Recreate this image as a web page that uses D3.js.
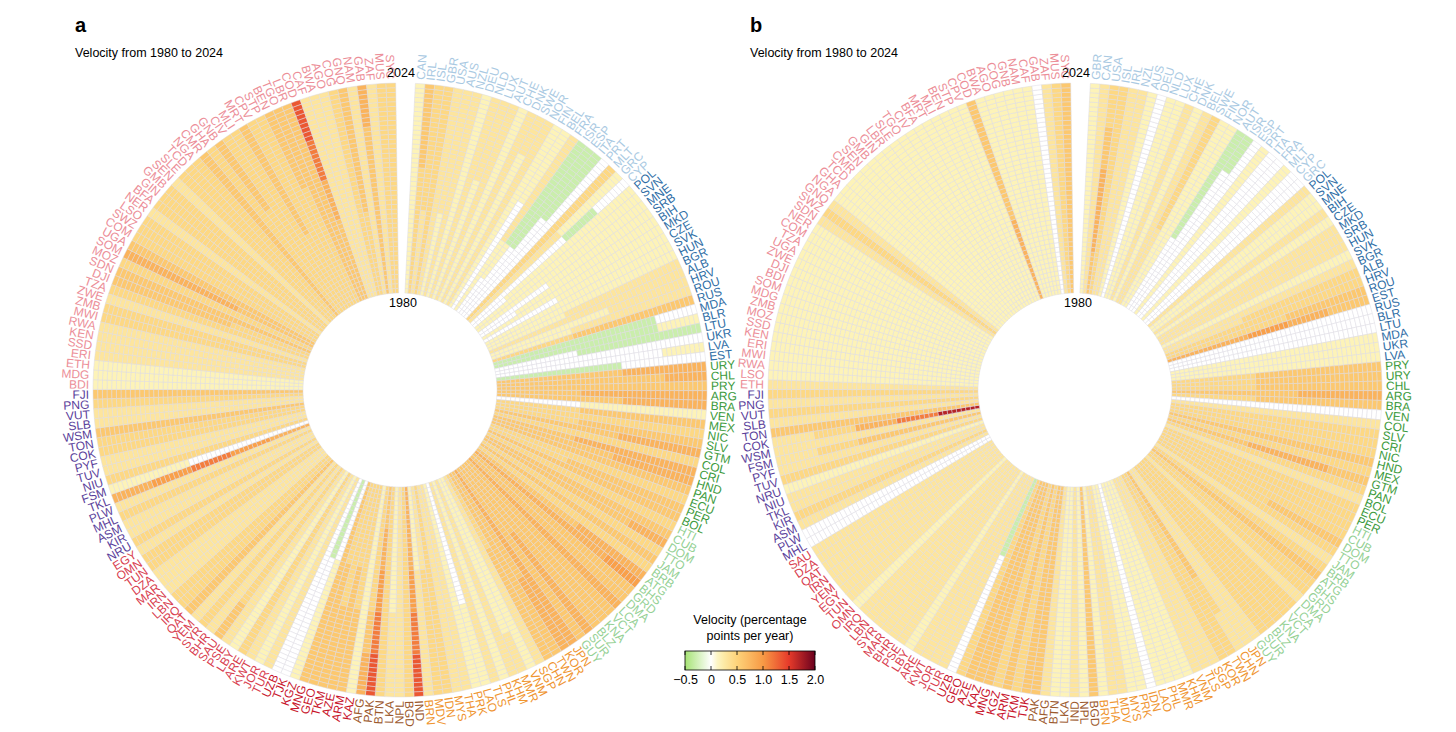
<!DOCTYPE html>
<html><head><meta charset="utf-8">
<script src="https://cdn.jsdelivr.net/npm/d3@7"></script>
<style>body{margin:0;background:#fff;font-family:"Liberation Sans",Arial,sans-serif}</style>
</head><body><svg id="c" width="1456" height="732"></svg>
<script>
// ---------- DATA ----------
const years = d3.range(1980, 2025);
const regionColors = {HI:"#a9c9e2",CEE:"#2f6ea6",LA:"#3c9a3c",CAR:"#95d195",EA:"#ef9530",SA:"#9c5a2e",CA:"#c8142c",ME:"#d84050",OC:"#5b3f9b",SSA:"#ec8e98"};
const regionOrder = ["HI","CEE","LA","CAR","EA","SA","CA","ME","OC","SSA"];
// level code -> velocity (pp/yr); each code char covers one 9-year block (1980-88, 89-97, 98-06, 07-15, 16-24)
const levelCodes = {g:-0.3, "0":0, "1":0.15, "2":0.3, "3":0.45, "4":0.6, "5":0.78, "6":0.95, "7":1.15, "8":1.35, "9":1.7};

const countriesA = {
 HI:"CAN IRL ISL GBR USA AUS NZL DEU NLD LUX AUT CHE DNK SWE NOR FIN BEL FRA ISR ESP ITA PRT MLT GRC CYP",
 CEE:"POL SVN MNE SRB BIH MKD CZE SVK HUN BGR ALB HRV ROU RUS MDA BLR LTU UKR LVA EST",
 LA:"URY CHL PRY ARG BRA VEN MEX NIC SLV GTM COL CRI HND PAN ECU PER BOL",
 CAR:"HTI CUB DOM TTO JAM BRB ATG BHS GRD DMA LCA VCT KNA BLZ SUR GUY",
 EA:"JPN KOR TWN CHN SGP VNM MMR KHM PHL TLS LAO PRK THA MYS IDN MDV BRN",
 SA:"IND BGD NPL LKA BTN PAK AFG",
 CA:"KAZ ARM AZE TKM GEO MNG KGZ TJK UZB",
 ME:"TUR JOR KWT ARE LBY PSE SAU BHR SYR YEM QAT IRQ LBN IRN MAR DZA TUN OMN EGY",
 OC:"NRU KIR ASM MHL PLW TKL FSM NIU TUV PYF COK TON WSM SLB VUT PNG FJI",
 SSA:"BDI MDG ETH ERI SSD KEN RWA MWI ZMB ZWE TZA DJI SDN MOZ SOM UGA COM SWZ LSO NER BFA GIN GMB SEN SLE TCD NGA CMR GHA GNB CIV MLI MRT CPV STP BEN TGO LBR COD CAF BWA AGO COG GNQ NAM GAB ZAF MUS SYC"
};
const codesA = {
 HI:"11111 33344 22333 33333 22222 11222 22222 11111 22222 11122 22222 11111 22222 11112 22222 11111 00011 11222 01ggg 00ggg 000gg 00000 33333 22211 000g0",
 CEE:"01111 11111 11111 00111 01111 11111 00111 11111 11111 11222 22222 11122 11222 33444 gggg0 gggg1 00ggg 00000 00001 ggg00",
 LA:"44455 44445 44444 44555 44455 00111 33444 33333 33444 44455 33333 44555 44455 44444 33333 33444 44444",
 CAR:"33333 44444 44445 33333 44444 33333 44455 55556 44444 44444 55555 44444 44444 44444 44555 44444",
 EA:"55555 44455 44444 33444 22222 11111 11112 22222 11111 22222 00011 11111 22222 22222 33333 22333 11222",
 SA:"55678 33333 22222 11122 33333 45678 33345",
 CA:"11111 33344 33444 33344 33444 44444 00111 gg000 00000",
 ME:"22222 11111 22222 33333 11111 22222 33334 22222 33333 22222 44444 33333 33333 22222 22222 22222 33333 33333 22222",
 OC:"33333 22222 22222 33333 22222 56765 00011 33333 22222 22222 33333 33333 44444 22222 22222 33333 44444",
 SSA:"11111 11111 11111 22222 22222 22222 22222 33333 33333 22222 33333 33444 44444 33333 44555 44444 33333 33333 33333 22222 33333 33333 33333 22222 33333 33333 33333 44444 33333 33344 33333 33333 33444 33333 33333 33344 44444 44444 44578 22222 22222 22222 33333 33444 22222 44445 22222 33333 33333"
};
const countriesB = {
 HI:"GBR CAN USA ISL IRL NZL AUS DEU NLD LUX CHE DNK BEL SWE FIN NOR AUT ISR ESP PRT ITA FRA MLT CYP GRC",
 CEE:"POL SVN MNE BIH CZE MKD SRB HUN SVK BGR ALB HRV ROU EST RUS BLR LTU MDA UKR LVA",
 LA:"PRY URY CHL ARG BRA VEN COL SLV CRI NIC HND MEX GTM PAN BOL ECU PER",
 CAR:"HTI CUB DOM TTO JAM BRB ATG BHS GRD DMA LCA VCT KNA BLZ SUR GUY",
 EA:"JPN CHN TWN KOR SGP TLS VNM KHM MMR PHL LAO IDN PRK MYS MDV THA BRN",
 SA:"BGD NPL IND LKA BTN AFG PAK",
 CA:"TJK TKM ARM KGZ MNG KAZ AZE GEO UZB",
 ME:"TUR JOR KWT ARE LBY PSE BHR MAR SYR LBN IRQ OMN TUN EGY YEM IRN QAT DZA SAU",
 OC:"MHL PLW ASM KIR TKL NIU NRU TUV PYF FSM WSM COK TON SLB VUT PNG FJI",
 SSA:"ETH LSO RWA MWI ERI KEN SSD MOZ ZMB MDG SOM BDI DJI ZWE UGA TZA COM NER SDN SWZ GNQ NGA GHA TCD CMR SEN GMB GIN LBR SLE TGO CIV BFA MRT MLI BEN STP CPV COD BWA AGO COG GNB NAM CAF GAB ZAF MUS SYC"
};
const codesB = {
 HI:"11111 22222 45543 33333 22222 22222 11111 00000 11111 11111 22222 11111 22222 22333 11111 11111 00ggg 0000g 00000 11111 00000 00000 11111 00000 00000",
 CEE:"22222 11111 11111 22222 11111 22222 22222 22222 11111 22222 22333 33333 33344 55654 00000 00000 00000 11111 11111 11111",
 LA:"33444 33444 33444 44455 33444 00000 22222 33333 33333 33333 44444 33333 44554 33333 22222 33333 33333",
 CAR:"33333 33333 33344 33333 22222 33333 44444 33333 33333 22222 33333 33333 33333 33333 33333 22222",
 EA:"22222 44432 33333 33333 22222 22222 22222 11111 11111 11111 11111 00000 11111 11111 22222 22222 11111",
 SA:"44444 11111 22222 11111 11111 22222 44444",
 CA:"44444 33333 44444 33333 44444 44444 44444 33333 gg000",
 ME:"22222 22222 22222 22222 11111 22222 22222 22222 22222 22222 22222 11111 22222 22222 22222 22222 22222 22222 22222",
 OC:"00000 00000 22222 33333 22222 22222 11111 33333 22222 44432 22222 97532 44444 22222 33333 22222 33333",
 SSA:"22222 11111 11111 11111 11111 11111 11111 11111 11111 11111 11111 11111 11111 11111 11111 11111 11111 11111 22222 33333 22222 11111 11111 11111 11111 11111 11111 11111 11111 11111 11111 11111 11111 11111 11111 11111 11111 11111 55444 11111 11111 11111 11111 11111 11111 00000 22222 33333 44444"
};
const legendTicks = [-0.5, 0, 0.5, 1.0, 1.5, 2.0];

// ---------- DRAW ----------
const svg = d3.select("#c");
const color = d3.scaleLinear()
  .domain([-0.5, 0, 0.15, 0.5, 1.0, 1.5, 2.0])
  .range(["#a6e374", "#ffffff", "#fdf3b8", "#fdd37a", "#f89a45", "#e63a2a", "#6a001e"])
  .clamp(true);

function buildRows(countries, codes) {
  const rows = [];
  regionOrder.forEach(r => {
    const cs = countries[r].split(" "), cd = codes[r].split(" ");
    cs.forEach((c, i) => rows.push({iso: c, region: r, code: cd[i] || "11111"}));
  });
  return rows;
}

function drawChart(cx, cy, rows, letter) {
  const g = svg.append("g").attr("transform", `translate(${cx},${cy})`);
  const innerR = 97, outerR = 307;
  const ang = d3.scaleBand().domain(rows.map(d => d.iso)).range([0.05, 2 * Math.PI - 0.014]);
  const rad = d3.scaleBand().domain(years).range([innerR, outerR]);
  const cells = [];
  rows.forEach(d => years.forEach((y, yi) => {
    const ch = d.code[Math.min(4, Math.floor(yi / 9))];
    cells.push({iso: d.iso, year: y, v: levelCodes[ch]});
  }));
  const arc = d3.arc()
    .innerRadius(c => rad(c.year)).outerRadius(c => rad(c.year) + rad.bandwidth())
    .startAngle(c => ang(c.iso)).endAngle(c => ang(c.iso) + ang.bandwidth());
  g.selectAll("path.cell").data(cells).join("path").attr("class", "cell")
    .attr("d", arc).attr("fill", c => color(c.v))
    .attr("stroke", "#dcdbe2").attr("stroke-width", 0.5);
  g.selectAll("text.lab").data(rows).join("text").attr("class", "lab")
    .attr("transform", d => {
      const a = (ang(d.iso) + ang.bandwidth() / 2) * 180 / Math.PI;
      return a > 180 ? `rotate(${a - 90}) translate(${outerR + 4},0) rotate(180)` : `rotate(${a - 90}) translate(${outerR + 4},0)`;
    })
    .attr("text-anchor", d => ((ang(d.iso) + ang.bandwidth() / 2) > Math.PI ? "end" : "start"))
    .attr("dy", "0.36em").attr("font-size", 12).attr("fill", d => regionColors[d.region])
    .text(d => d.iso);
  g.append("text").attr("x", 1).attr("y", -outerR - 6).attr("text-anchor", "middle").attr("font-size", 12.5).text("2024");
  g.append("text").attr("x", 3).attr("y", -innerR + 14).attr("text-anchor", "middle").attr("font-size", 12.5).text("1980");
  svg.append("text").attr("x", cx - 325).attr("y", 32).attr("font-size", 20).attr("font-weight", "bold").text(letter);
  svg.append("text").attr("x", cx - 325).attr("y", 57).attr("font-size", 12.5).text("Velocity from 1980 to 2024");
}

drawChart(400, 390, buildRows(countriesA, codesA), "a");
drawChart(1075, 390, buildRows(countriesB, codesB), "b");

// legend
const lx = d3.scaleLinear().domain([-0.5, 2.0]).range([685, 815]);
const defs = svg.append("defs");
const grad = defs.append("linearGradient").attr("id", "lg");
d3.range(0, 1.0001, 0.05).forEach(t => grad.append("stop").attr("offset", t).attr("stop-color", color(-0.5 + 2.5 * t)));
const lg = svg.append("g");
lg.append("text").attr("x", 750).attr("y", 624).attr("text-anchor", "middle").attr("font-size", 12.5).text("Velocity (percentage");
lg.append("text").attr("x", 750).attr("y", 640).attr("text-anchor", "middle").attr("font-size", 12.5).text("points per year)");
lg.append("rect").attr("x", 685).attr("y", 651).attr("width", 130).attr("height", 19).attr("fill", "url(#lg)").attr("stroke", "#000").attr("stroke-width", 0.8);
lg.append("g").attr("transform", "translate(0,670)")
  .call(d3.axisBottom(lx).tickValues(legendTicks).tickSize(0).tickPadding(5).tickFormat(d => d === 0 ? "0" : d3.format(".1f")(d).replace("-", "\u2212")))
  .call(a => a.select(".domain").remove())
  .call(a => a.selectAll("text").attr("font-size", 12.5).attr("font-family", "Liberation Sans, Arial"));
legendTicks.forEach(t => {
  lg.append("line").attr("x1", lx(t)).attr("x2", lx(t)).attr("y1", 651).attr("y2", 655).attr("stroke", "#000").attr("stroke-width", 0.8);
  lg.append("line").attr("x1", lx(t)).attr("x2", lx(t)).attr("y1", 666).attr("y2", 670).attr("stroke", "#000").attr("stroke-width", 0.8);
});
</script></body></html>
